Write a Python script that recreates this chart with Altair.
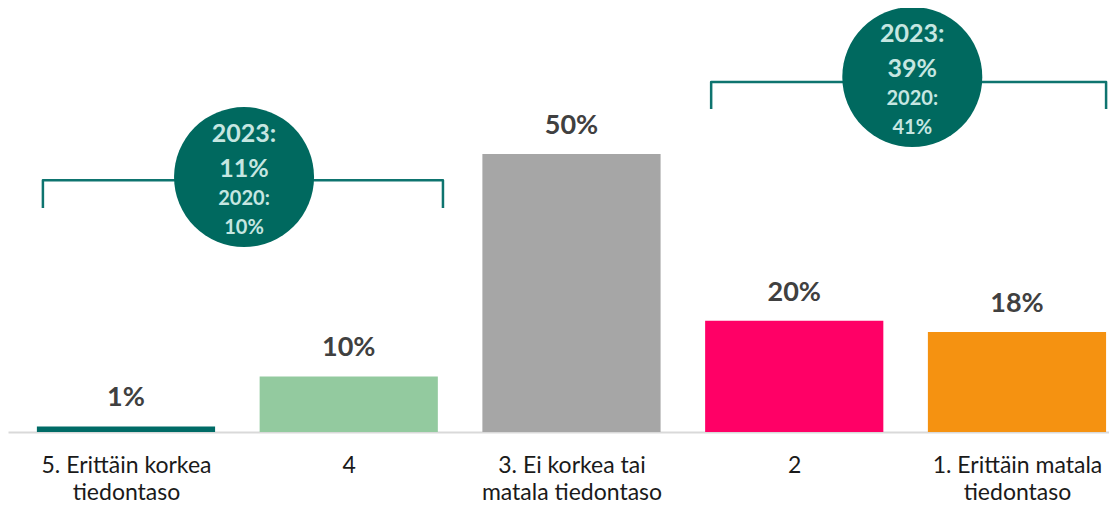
import json
import altair as alt
import pandas as pd

# ---- data ----
category_lines = [
    ["5. Erittäin korkea", "tiedontaso"],
    ["4"],
    ["3. Ei korkea tai", "matala tiedontaso"],
    ["2"],
    ["1. Erittäin matala", "tiedontaso"],
]
values = [1, 10, 50, 20, 18]
bar_colors = ["#006B66", "#93CA9F", "#A6A6A6", "#FF0066", "#F59211"]

years = ["2023:", "2020:"]
high_group_share = [11, 10]   # categories 5 + 4
low_group_share = [39, 41]    # categories 2 + 1

# ---- tables ----
bars = pd.DataFrame({
    "idx": list(range(len(values))),
    "value": values,
    "color": bar_colors,
    "label": [f"{v}%" for v in values],
})
bars["x0"] = bars["idx"] - 0.4
bars["x1"] = bars["idx"] + 0.4
bars["base"] = 0

# annotation groups: (first idx, last idx, bracket top, bracket bottom, circle lift, shares)
groups = [
    (0, 1, 45.3, 40.3, 0.55, high_group_share),
    (3, 4, 62.95, 58.1, 0.9, low_group_share),
]
br_rows, circ_rows = [], []
for g, (a, b, top, bot, lift, shares) in enumerate(groups):
    left = a - 0.373
    right = min(b + 0.423, 4.40)
    for k, (xx, yy) in enumerate([(left, bot), (left, top), (right, top), (right, bot)]):
        br_rows.append({"g": g, "o": k, "x": xx, "y": yy})
    circ_rows.append({
        "cx": (a + b) / 2 + 0.03, "cy": top + lift,
        "l1": years[0], "l2": f"{shares[0]}%",
        "l3": years[1], "l4": f"{shares[1]}%",
    })
brackets = pd.DataFrame(br_rows)
circles = pd.DataFrame(circ_rows)

xscale = alt.Scale(domain=[-0.5297, 4.4131], nice=False, zero=False)
yscale = alt.Scale(domain=[0, 76.26], nice=False, zero=True)
label_expr = json.dumps(category_lines, ensure_ascii=False) + "[round(datum.value)]"
xaxis = alt.Axis(
    values=[0, 1, 2, 3, 4], labelExpr=label_expr, ticks=False, grid=False,
    domainColor="#D9D9D9", domainWidth=2, labelFont="Lato", labelFontSize=23,
    labelColor="#1A1A1A", labelBaseline="alphabetic", labelPadding=40,
    labelLineHeight=27, labelLimit=400, labelOverlap=False, labelFlush=False,
    title=None,
)

bar_layer = alt.Chart(bars).mark_bar().encode(
    x=alt.X("x0:Q", scale=xscale, axis=xaxis),
    x2="x1:Q",
    y=alt.Y("value:Q", scale=yscale, axis=None),
    y2="base:Q",
    color=alt.Color("color:N", scale=None),
)

value_layer = alt.Chart(bars).mark_text(
    dy=-20, baseline="alphabetic", font="Lato", fontWeight="bold",
    fontSize=27, color="#404040",
).encode(
    x=alt.X("idx:Q", scale=xscale, axis=xaxis),
    y=alt.Y("value:Q", scale=yscale, axis=None),
    text="label:N",
)

bracket_layer = alt.Chart(brackets).mark_line(
    color="#0E746F", strokeWidth=2.5, strokeJoin="round", strokeCap="butt"
).encode(
    x=alt.X("x:Q", scale=xscale, axis=xaxis),
    y=alt.Y("y:Q", scale=yscale, axis=None),
    detail="g:N",
    order="o:Q",
)

circle_layer = alt.Chart(circles).mark_point(
    shape="circle", filled=True, size=19600, color="#00695F", opacity=1, strokeWidth=0
).encode(
    x=alt.X("cx:Q", scale=xscale, axis=xaxis),
    y=alt.Y("cy:Q", scale=yscale, axis=None),
)

text_layers = []
for field, dy, fs in [("l1", -35, 25), ("l2", 0, 25), ("l3", 28, 20), ("l4", 57, 20)]:
    text_layers.append(
        alt.Chart(circles).mark_text(
            dy=dy, baseline="alphabetic", font="Lato", fontWeight="bold",
            fontSize=fs, color="#C6E6E1",
        ).encode(
            x=alt.X("cx:Q", scale=xscale, axis=xaxis),
            y=alt.Y("cy:Q", scale=yscale, axis=None),
            text=f"{field}:N",
        )
    )

chart = alt.layer(bar_layer, value_layer, bracket_layer, circle_layer, *text_layers).properties(
    width=1101, height=424,
    autosize=alt.AutoSizeParams(type="none"),
    padding={"left": 0, "right": 0, "top": 0, "bottom": 71},
).configure_view(stroke=None)

chart.save("out.html", embed_options={"renderer": "svg", "actions": False})
